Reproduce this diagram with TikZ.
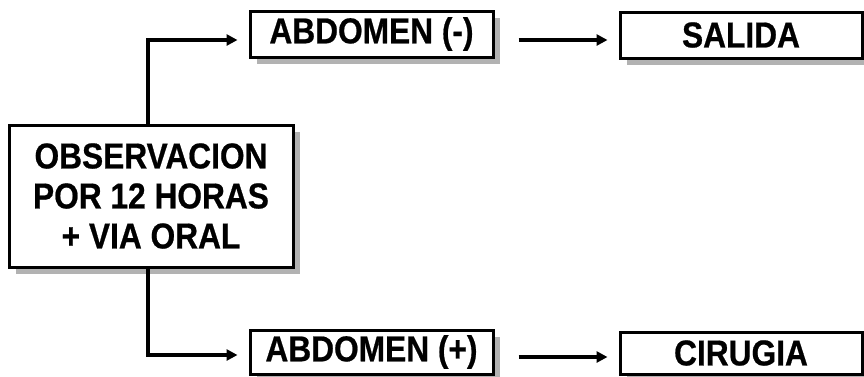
\documentclass[tikz,border=0pt]{standalone}
\usepackage{fontspec}
\setmainfont{Liberation Sans}
\newfontfamily\boxfont[FakeStretch=0.88,FakeBold=0.6]{Liberation Sans}
\usetikzlibrary{arrows.meta,shadows}
\tikzset{
  box/.style={draw=black, line width=3pt, fill=white, inner sep=0pt,
    font=\boxfont\bfseries\fontsize{36}{40}\selectfont, align=center,
    drop shadow={shadow xshift=7pt, shadow yshift=-7pt, fill=black!30, opacity=1}},
  arr/.style={line width=3.4pt, -{Triangle[length=11pt,width=11pt]}}
}
\begin{document}
\begin{tikzpicture}[x=1pt,y=-1pt]
\useasboundingbox (0,0) rectangle (864,376);
\node[box, minimum width=284pt, minimum height=142pt] (obs) at (151,196)
  {OBSERVACION\\POR 12 HORAS\\+ VIA ORAL};
\node[box, minimum width=243pt, minimum height=46pt] (abdm) at (371.5,34) {ABDOMEN (-)};
\node[box, minimum width=242pt, minimum height=46pt] (sal) at (741,35) {SALIDA};
\node[box, minimum width=243pt, minimum height=44pt] (abdp) at (371.5,352) {ABDOMEN (+)};
\node[box, minimum width=242pt, minimum height=42pt] (cir) at (741,353) {CIRUGIA};
\draw[arr, shorten >=11pt] ([xshift=-3pt]obs.north) |- ([yshift=-6pt]abdm.west);
\draw[arr, shorten >=11pt] ([xshift=-3pt]obs.south) |- ([yshift=-3pt]abdp.west);
\draw[arr, shorten <=24pt, shorten >=11pt] ([yshift=-6pt]abdm.east) -- ([yshift=-6pt]abdm.east -| sal.west);
\draw[arr, shorten <=24pt, shorten >=11pt] ([yshift=-5pt]abdp.east) -- ([yshift=-5pt]abdp.east -| cir.west);
\end{tikzpicture}
\end{document}
